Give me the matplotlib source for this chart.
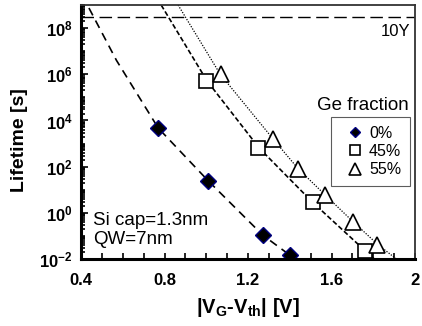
import matplotlib
matplotlib.use("Agg")
import matplotlib.pyplot as plt
import numpy as np
from matplotlib.ticker import FixedLocator, LogLocator, NullFormatter, FuncFormatter

plt.rcParams['font.family'] = ['Liberation Sans', 'DejaVu Sans']
plt.rcParams['mathtext.fontset'] = 'custom'
plt.rcParams['mathtext.rm'] = 'Liberation Sans'
plt.rcParams['mathtext.bf'] = 'Liberation Sans:bold'

# measured data (|VG-Vth| [V], lifetime [s])
ge0_x = [0.77, 1.01, 1.27, 1.40]
ge0_y = [4.7e3, 24, 0.11, 0.015]
ge45_x = [1.00, 1.25, 1.51, 1.76]
ge45_y = [5.2e5, 640, 3.0, 0.022]
ge55_x = [1.07, 1.32, 1.44, 1.57, 1.705, 1.82]
ge55_y = [1.0e6, 1560, 79, 5.9, 0.4, 0.041]

# fitted curves (x, log10 lifetime)
fit0_x = [0.438, 0.57, 0.77, 1.01, 1.27, 1.40, 1.42]
fit0_ly = [8.87, 6.6, 3.67, 1.38, -0.96, -1.83, -2.0]
fit45_x = [0.784, 1.004, 1.254, 1.508, 1.762, 1.805]
fit45_ly = [9.0, 5.71, 2.8, 0.47, -1.65, -2.0]
fit55_x = [0.865, 1.067, 1.321, 1.441, 1.570, 1.705, 1.824, 1.911]
fit55_ly = [9.0, 6.0, 3.19, 1.9, 0.77, -0.4, -1.39, -2.0]

ten_years = 3.15e8
labels = ['0%', '45%', '55%']

fig = plt.figure(figsize=(4.22, 3.26), dpi=100)
ax = fig.add_axes([81/422, 67/326, 334/422, 254/326])

ax.plot(fit0_x, 10**np.array(fit0_ly), color='black', lw=1.2, ls=(0, (5, 3.5)))
ax.plot(fit45_x, 10**np.array(fit45_ly), color='black', lw=1.2, ls=(0, (3, 1.5)))
ax.plot(fit55_x, 10**np.array(fit55_ly), color='black', lw=0.9, ls=(0, (1, 1.2)))
ax.axhline(ten_years, color='black', lw=1.0, ls=(0, (9, 4)))

ax.plot(ge0_x, ge0_y, ls='none', marker='D', ms=8, mfc='black', mec='#000080', mew=1.0, label=labels[0])
ax.plot(ge45_x, ge45_y, ls='none', marker='s', ms=10, mfc='white', mec='black', mew=1.2, label=labels[1])
ax.plot(ge55_x, ge55_y, ls='none', marker='^', ms=12, mfc='white', mec='black', mew=1.2, label=labels[2])

ax.set_xlim(0.4, 2.0)
ax.set_yscale('log')
ax.set_ylim(1e-2, 1e9)

ax.xaxis.set_major_locator(FixedLocator([0.4, 0.8, 1.2, 1.6, 2.0]))
ax.xaxis.set_minor_locator(FixedLocator(np.arange(0.5, 2.0, 0.1)))
ax.xaxis.set_major_formatter(FuncFormatter(lambda v, p: '2' if abs(v - 2) < 1e-6 else f'{v:.1f}'))
ax.yaxis.set_major_locator(FixedLocator([1e-2, 1e0, 1e2, 1e4, 1e6, 1e8]))
ax.yaxis.set_minor_locator(LogLocator(base=10, subs=np.arange(1, 10), numticks=30))
ax.yaxis.set_minor_formatter(NullFormatter())
ax.yaxis.set_major_formatter(FuncFormatter(lambda v, p: r'$\mathbf{10^{%d}}$' % round(np.log10(v))))

ax.tick_params(axis='both', which='both', direction='in', width=1.2, colors='black')
ax.tick_params(axis='x', which='both', length=4, labelsize=12, pad=10)
ax.tick_params(axis='y', which='major', length=5, labelsize=12, pad=6)
ax.tick_params(axis='y', which='minor', length=3)
for t in ax.get_xticklabels():
    t.set_fontweight('bold')

ax.spines['left'].set_linewidth(2.2)
ax.spines['bottom'].set_linewidth(2.2)
ax.spines['top'].set_linewidth(1.3)
ax.spines['right'].set_linewidth(1.3)
ax.spines['top'].set_color('#333333')
ax.spines['right'].set_color('#333333')

ax.set_ylabel('Lifetime [s]', fontsize=14, fontweight='bold')
ax.yaxis.set_label_coords(-0.159, 0.47)
ax.set_xlabel(r'|V$_\mathregular{G}$-V$_\mathregular{th}$| [V]', fontsize=14.5, fontweight='bold', labelpad=6)

ax.text(0.985, 0.894, '10Y', transform=ax.transAxes, ha='right', va='center', fontsize=12)
ax.text(0.036, 0.114, 'Si cap=1.3nm\nQW=7nm', transform=ax.transAxes, ha='left', va='center',
        fontsize=13.5, linespacing=1.1)
ax.text(0.845, 0.606, 'Ge fraction', transform=ax.transAxes, ha='center', va='center', fontsize=13.5)

leg = ax.legend(loc='upper right', bbox_to_anchor=(0.985, 0.559), fontsize=11.5, frameon=True,
                fancybox=False, edgecolor='#333333', handlelength=1.8, handletextpad=0.0,
                borderpad=0.55, labelspacing=0.2, markerscale=0.7, borderaxespad=0)
leg.get_frame().set_linewidth(0.8)

fig.savefig('out.png', dpi=100)
